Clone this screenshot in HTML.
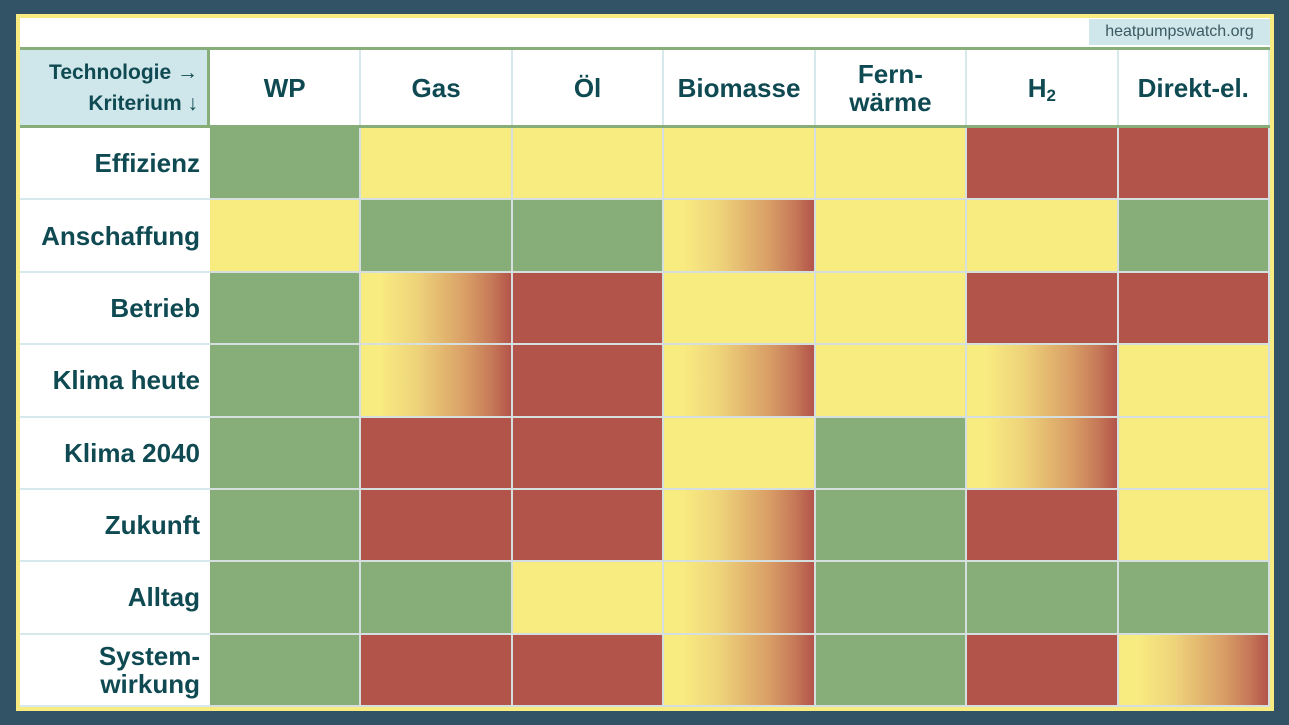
<!DOCTYPE html>
<html><head><meta charset="utf-8"><style>
body{margin:0;width:1289px;height:725px;background:#325365;position:relative;overflow:hidden;font-family:"Liberation Sans",sans-serif}
.frame{position:absolute;left:16px;top:14px;width:1258px;height:697px;background:#f8ec80}
.inner{position:absolute;left:20px;top:18px;width:1250px;height:689px;background:#fff}
.c{position:absolute;box-sizing:border-box;display:flex;align-items:center;justify-content:center;color:#0f4a52;font-weight:bold;font-size:26px;text-align:center;line-height:28px}
.G{background:#87ad79}.Y{background:#f8ec80}.R{background:#b3544b}
.X{background:linear-gradient(90deg,#f8ec80 12%,#eed27a 38%,#d99e66 70%,#c57757 88%,#b3544b 100%)}
.d{border-right:2px solid #d6dfe0;border-bottom:2px solid #d6dfe0}
.h{border-right:2px solid #d6eaee}
.l{justify-content:flex-end;padding-right:10px;text-align:right;border-bottom:2px solid #d6eaee}
</style></head><body>
<div class="frame"></div><div class="inner"></div>
<div class="c" style="left:1089px;top:19px;width:181px;height:26px;background:#cfe6ea;font-weight:normal;font-size:16px;color:#3c5a62">heatpumpswatch.org</div>
<div style="position:absolute;left:20px;top:47px;width:1250px;height:3px;background:#87ad79"></div>
<div style="position:absolute;left:20px;top:125px;width:1250px;height:3px;background:#87ad79"></div>
<div class="c" style="left:20px;top:50px;width:187px;height:75px;background:#cfe6ea;font-size:21px;line-height:31px;justify-content:flex-end;padding-right:9px;text-align:right">Technologie →<br>Kriterium ↓</div>
<div style="position:absolute;left:207px;top:50px;width:3px;height:78px;background:#87ad79"></div>
<div id="g"></div>
<script>
var cols=["WP","Gas","Öl","Biomasse","Fern-<br>wärme","H<span style='font-size:17px;position:relative;top:8px'>2</span>","Direkt-el."];
var rows=["Effizienz","Anschaffung","Betrieb","Klima heute","Klima 2040","Zukunft","Alltag","System-<br>wirkung"];
var m=["GYYYYRR","YGGXYYG","GXRYYRR","GXRXYXY","GRRYGXY","GRRXGRY","GGYXGGG","GRRXGRX"];
var h="";var cw=1060/7,rh=579/8;
for(var j=0;j<7;j++){var x=210+j*cw;h+='<div class="c h" style="left:'+x+'px;top:50px;width:'+cw+'px;height:75px">'+cols[j]+'</div>';}
for(var i=0;i<8;i++){var y=128+i*rh;
h+='<div class="c l" style="left:20px;top:'+y+'px;width:190px;height:'+rh+'px">'+rows[i]+'</div>';
for(var j=0;j<7;j++){var x=210+j*cw;h+='<div class="c d '+m[i][j]+'" style="left:'+x+'px;top:'+y+'px;width:'+cw+'px;height:'+rh+'px"></div>';}}
document.getElementById("g").innerHTML=h;
</script>
</body></html>
